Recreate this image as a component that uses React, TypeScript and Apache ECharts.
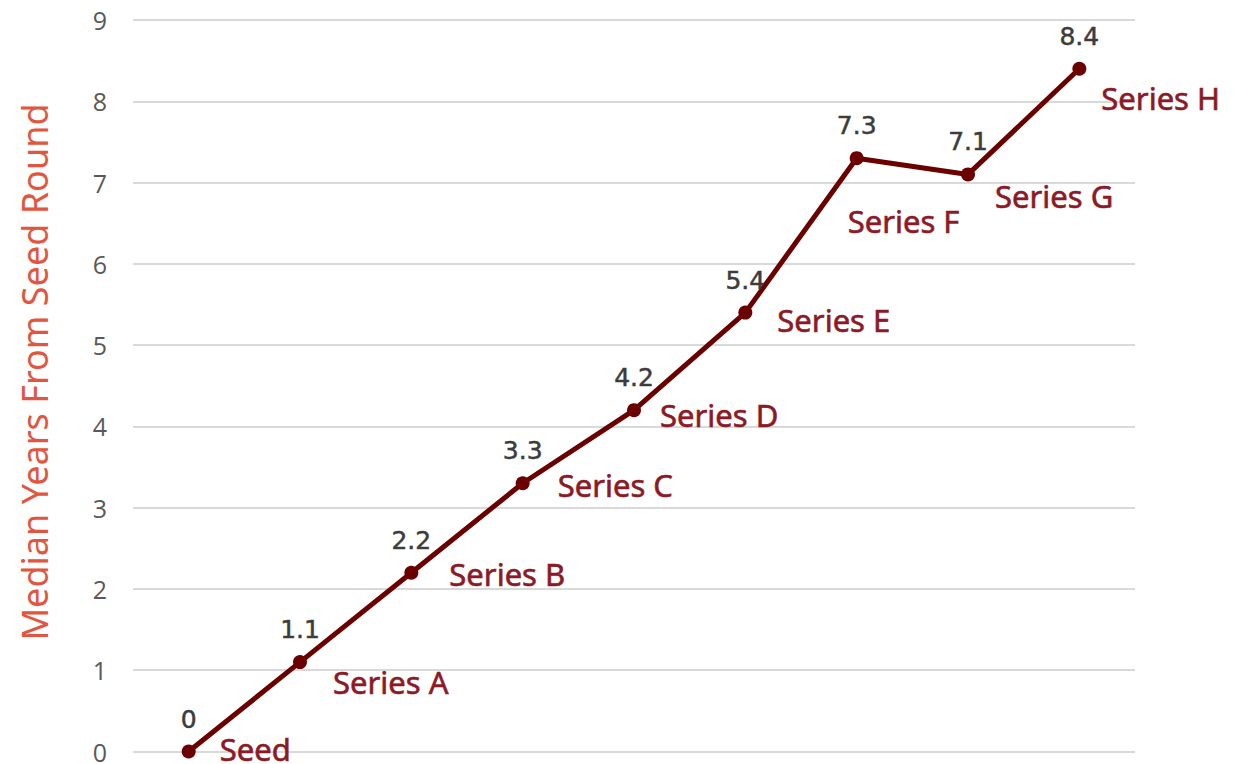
import React, { useEffect, useRef } from "react";
import * as echarts from "echarts";

// Funding rounds and the median years from the seed round at which each is reached
const rounds = ["Seed", "Series A", "Series B", "Series C", "Series D", "Series E", "Series F", "Series G", "Series H"];
const medianYears = [0, 1.1, 2.2, 3.3, 4.2, 5.4, 7.3, 7.1, 8.4];
const yTicks = [0, 1, 2, 3, 4, 5, 6, 7, 8, 9];
const yTitle = "Median Years From Seed Round";

// Where each round name sits relative to its point: [dx, dy] in pixels
const roundNameOffsets: [number, number][] = [
  [31, -3],
  [33, 20],
  [38, 1],
  [35, 2],
  [26, 5],
  [32, 7],
  [-9, 63],
  [27, 22],
  [22, 29],
];

const LINE_COLOR = "#6b0000";
const NAME_COLOR = "#8c1a26";
const VALUE_COLOR = "#3c3c3c";
const TITLE_COLOR = "#e2553f";

export default function App() {
  const ref = useRef<HTMLDivElement>(null);

  useEffect(() => {
    if (!ref.current) return;
    const chart = echarts.init(ref.current, undefined, { renderer: "svg" });

    chart.setOption({
      animation: false,
      backgroundColor: "#ffffff",
      grid: { left: 133, right: 112, top: 20, bottom: 10, containLabel: false },
      graphic: [
        {
          type: "text",
          x: 34,
          y: 372,
          rotation: Math.PI / 2,
          style: {
            text: yTitle,
            fill: TITLE_COLOR,
            fontSize: 36,
            fontFamily: "Noto Sans",
            align: "center",
            verticalAlign: "middle",
          },
        },
      ],
      xAxis: {
        type: "category",
        data: rounds,
        boundaryGap: true,
        axisLine: { show: false },
        axisTick: { show: false },
        axisLabel: { show: false },
        splitLine: { show: false },
      },
      yAxis: {
        type: "value",
        min: yTicks[0],
        max: yTicks[yTicks.length - 1],
        interval: 1,
        axisLine: { show: false },
        axisTick: { show: false },
        axisLabel: {
          color: "#595959",
          fontSize: 25,
          fontFamily: "Open Sans",
          margin: 26,
        },
        splitLine: { lineStyle: { color: "#d9d9d9", width: 2 } },
      },
      series: [
        {
          type: "line",
          data: medianYears,
          symbol: "circle",
          symbolSize: 14,
          lineStyle: { color: LINE_COLOR, width: 5 },
          itemStyle: { color: LINE_COLOR },
          label: {
            show: true,
            position: "top",
            distance: 13,
            color: VALUE_COLOR,
            fontSize: 25,
            fontFamily: "DejaVu Sans",
            textBorderColor: VALUE_COLOR,
            textBorderWidth: 0.5,
          },
          z: 3,
        },
        {
          type: "scatter",
          data: medianYears.map((v, i) => ({
            value: v,
            label: { offset: roundNameOffsets[i] },
          })),
          symbolSize: 1,
          itemStyle: { color: "rgba(0,0,0,0)", opacity: 1 },
          silent: true,
          label: {
            show: true,
            position: "inside",
            align: "left",
            verticalAlign: "middle",
            formatter: (p: any) => rounds[p.dataIndex],
            color: NAME_COLOR,
            opacity: 1,
            fontSize: 31,
            fontFamily: "Noto Sans",
            textBorderColor: NAME_COLOR,
            textBorderWidth: 0.6,
          },
          z: 4,
        },
      ],
    });

    return () => chart.dispose();
  }, []);

  return (
    <div
      ref={ref}
      style={{ position: "fixed", left: 0, top: 0, width: 1247, height: 764, background: "#fff" }}
    />
  );
}
